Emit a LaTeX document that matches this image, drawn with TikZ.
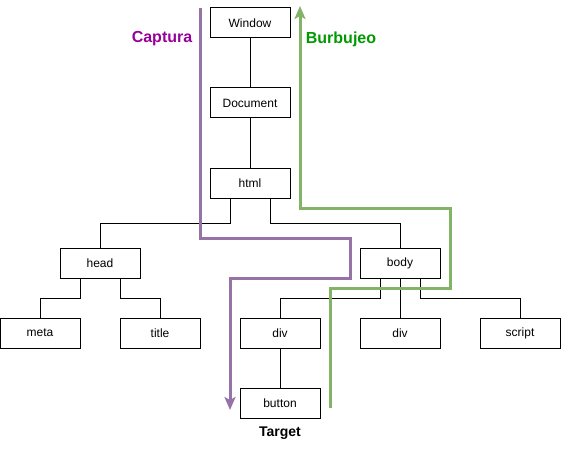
\documentclass[tikz,border=0pt]{standalone}
\usepackage{fontspec}
\setmainfont{Liberation Sans}
\usetikzlibrary{arrows.meta}
\definecolor{capturecol}{HTML}{9673A6}
\definecolor{bubblecol}{HTML}{82B366}
\definecolor{capturetext}{HTML}{990099}
\definecolor{bubbletext}{HTML}{009900}
\begin{document}
\begin{tikzpicture}[x=1pt, y=-1pt,
    elem/.style={draw=black, line width=1pt, minimum width=80pt, minimum height=30pt,
        inner sep=0pt, font=\fontsize{12}{14}\selectfont},
    link/.style={draw=black, line width=1pt},
    flowlabel/.style={font=\fontsize{16}{18}\selectfont\bfseries},
    capture/.style={draw=capturecol, line width=3pt, -{Stealth[length=13pt,width=11pt,inset=3pt]}},
    bubble/.style={draw=bubblecol, line width=3pt, -{Stealth[length=13pt,width=11pt,inset=3pt]}}]
    \useasboundingbox (0,0) rectangle (561,449);
    % tree nodes
    \node[elem] (window) at (250,23) {Window};
    \node[elem] (document) at (250,103) {Document};
    \node[elem] (html) at (250,183) {html};
    \node[elem] (head) at (100,263) {head};
    \node[elem] (body) at (400,263) {body};
    \node[elem] (meta) at (40,333) {meta};
    \node[elem] (title) at (160,333) {title};
    \node[elem] (divA) at (280,333) {div};
    \node[elem] (divB) at (400,333) {div};
    \node[elem] (script) at (520,333) {script};
    \node[elem] (button) at (280,403) {button};
    \node[font=\fontsize{14}{16}\selectfont\bfseries] (target) at (280,433) {Target};
    % links
    \draw[link] (window) -- (document);
    \draw[link] (document) -- (html);
    \draw[link] ([xshift=-20pt]html.south) -- ++(0,25) -| (head.north);
    \draw[link] ([xshift=20pt]html.south) -- ++(0,25) -| (body.north);
    \draw[link] ([xshift=-20pt]head.south) -- ++(0,20) -| (meta.north);
    \draw[link] ([xshift=20pt]head.south) -- ++(0,20) -| (title.north);
    \draw[link] ([xshift=-20pt]body.south) -- ++(0,20) -| (divA.north);
    \draw[link] (body) -- (divB);
    \draw[link] ([xshift=20pt]body.south) -- ++(0,20) -| (script.north);
    \draw[link] (divA) -- (button);
    % event phases
    \draw[capture] (200,8) -- (200,238) -- (350,238) -- (350,278) -- (230,278) -- (230,410);
    \draw[bubble] (330,408) -- (330,288) -- (450,288) -- (450,208) -- (300,208) -- (300,6);
    \node[flowlabel, text=capturetext] (captura) at (162,39) {Captura};
    \node[flowlabel, text=bubbletext] (burbujeo) at (341,39) {Burbujeo};
\end{tikzpicture}
\end{document}
